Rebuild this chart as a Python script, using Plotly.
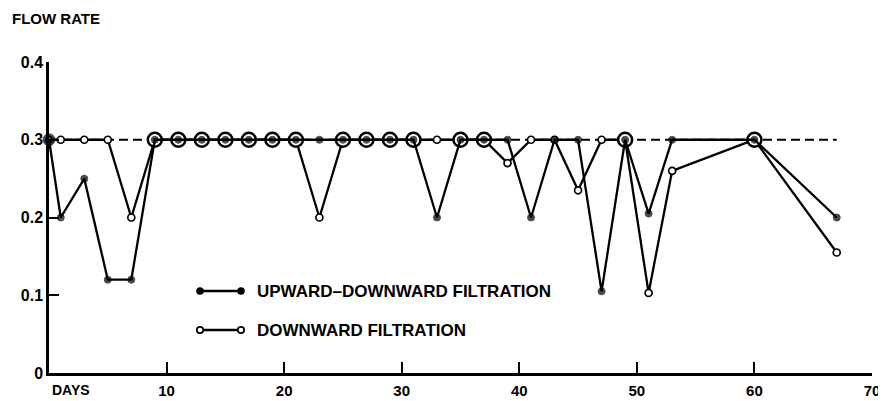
import plotly.graph_objects as go

# ---------------- data ----------------
days = [0, 1, 3, 5, 7, 9, 11, 13, 15, 17, 19, 21, 23, 25, 27, 29, 31, 33, 35, 37,
        39, 41, 43, 45, 47, 49, 51, 53, 60, 67]
upward_downward = [0.30, 0.20, 0.25, 0.12, 0.12, 0.30, 0.30, 0.30, 0.30, 0.30, 0.30, 0.30,
                   0.30, 0.30, 0.30, 0.30, 0.30, 0.20, 0.30, 0.30, 0.30, 0.20, 0.30, 0.30,
                   0.105, 0.30, 0.205, 0.30, 0.30, 0.20]
downward = [0.30, 0.30, 0.30, 0.30, 0.20, 0.30, 0.30, 0.30, 0.30, 0.30, 0.30, 0.30,
            0.20, 0.30, 0.30, 0.30, 0.30, 0.30, 0.30, 0.30, 0.27, 0.30, 0.30, 0.235,
            0.30, 0.30, 0.103, 0.26, 0.30, 0.155]
# days where both methods coincide and are drawn as ringed points
ring_days = [9, 11, 13, 15, 17, 19, 21, 25, 27, 29, 31, 35, 37, 49, 60]
reference_rate = 0.30

x_ticks = [10, 20, 30, 40, 50, 60, 70]
y_ticks = [0, 0.1, 0.2, 0.3, 0.4]
y_tick_labels = ["0", "0.1", "0.2", "0.3", "0.4"]

series_names = ["UPWARD\u2013DOWNWARD FILTRATION", "DOWNWARD FILTRATION"]

# ---------------- figure ----------------
FONT = "Liberation Sans"
INK = "#000000"
OFF = 8                      # default page body margin
W, H = 886 - OFF, 401 - OFF
# plot area in window pixels: x 49..872, y 62..373
ML, MT = 49 - OFF, 62 - OFF
MR, MB = W - (872 - OFF), H - (373 - OFF)
PW, PH = W - ML - MR, H - MT - MB

fig = go.Figure()

# dashed reference level
fig.add_trace(go.Scatter(
    x=[days[0], days[-1]], y=[reference_rate, reference_rate], mode="lines",
    line=dict(color=INK, width=2, dash="9px,5px"), hoverinfo="skip", showlegend=False))

# downward filtration (open circles)
fig.add_trace(go.Scatter(
    x=days, y=downward, mode="lines+markers", name=series_names[1],
    line=dict(color=INK, width=2.3),
    marker=dict(symbol="circle", size=7, color="white", line=dict(color=INK, width=1.7)),
    cliponaxis=False, showlegend=False))

# rings where both coincide
ring_vals = [downward[days.index(d)] for d in ring_days]
fig.add_trace(go.Scatter(
    x=ring_days, y=ring_vals, mode="markers",
    marker=dict(symbol="circle", size=14, color="white", line=dict(color=INK, width=2.5)),
    cliponaxis=False, showlegend=False, hoverinfo="skip"))

# upward-downward filtration (filled circles)
fig.add_trace(go.Scatter(
    x=days, y=upward_downward, mode="lines+markers", name=series_names[0],
    line=dict(color=INK, width=2.3),
    marker=dict(symbol="circle", size=[12 if d == 0 else 7 for d in days], color=INK,
                line=dict(color=INK, width=1)),
    cliponaxis=False, showlegend=False))

# ---------------- custom legend (window pixels -> paper coords) ----------------
def px_x(px):
    return (px - OFF - ML) / PW

def px_y(py):
    return (MT + PH - (py - OFF)) / PH

shapes = []
annotations = []
legend_rows = [(291, True, series_names[0]), (330, False, series_names[1])]
for py, filled, label in legend_rows:
    shapes.append(dict(type="line", xref="paper", yref="paper",
                       x0=px_x(201), x1=px_x(241), y0=px_y(py), y1=px_y(py),
                       line=dict(color=INK, width=2.3)))
    r = 3.8 if filled else 3.2
    for cx in (200, 241):
        shapes.append(dict(type="circle", xref="paper", yref="paper",
                           x0=px_x(cx - r), x1=px_x(cx + r),
                           y0=px_y(py + r), y1=px_y(py - r),
                           fillcolor=INK if filled else "white",
                           line=dict(color=INK, width=0 if filled else 1.7)))
    annotations.append(dict(text="<b>%s</b>" % label, xref="paper", yref="paper",
                            x=px_x(255), y=px_y(py), xanchor="left", yanchor="middle",
                            showarrow=False, font=dict(family=FONT, size=17, color=INK)))

annotations.append(dict(text="<b>FLOW RATE</b>", xref="paper", yref="paper",
                        x=px_x(10), y=px_y(18), xanchor="left", yanchor="middle",
                        showarrow=False, font=dict(family=FONT, size=15, color=INK)))
annotations.append(dict(text="<b>DAYS</b>", xref="paper", yref="paper",
                        x=px_x(50), y=px_y(390), xanchor="left", yanchor="middle",
                        showarrow=False, font=dict(family=FONT, size=14, color=INK)))

fig.update_layout(
    width=W, height=H,
    margin=dict(l=ML, r=MR, t=MT, b=MB),
    paper_bgcolor="white", plot_bgcolor="white",
    shapes=shapes, annotations=annotations,
    font=dict(family=FONT, size=15, color=INK),
    xaxis=dict(range=[0, 70], tickvals=x_ticks, ticktext=["<b>%d</b>" % t for t in x_ticks],
               ticks="inside", ticklen=11, tickwidth=2, ticklabelstandoff=2,
               tickcolor=INK, showline=True, linewidth=2.5, linecolor=INK,
               showgrid=False, zeroline=False, fixedrange=True, automargin=False,
               tickfont=dict(family=FONT, size=15, color=INK)),
    yaxis=dict(range=[0, 0.4], tickvals=y_ticks, ticktext=["<b>%s</b>" % t for t in y_tick_labels],
               ticks="inside", ticklen=10, tickwidth=2, tickcolor=INK, showline=True,
               linewidth=2.5, linecolor=INK, showgrid=False, zeroline=False,
               fixedrange=True, automargin=False,
               tickfont=dict(family=FONT, size=16, color=INK)),
)

fig.write_html("out.html")
